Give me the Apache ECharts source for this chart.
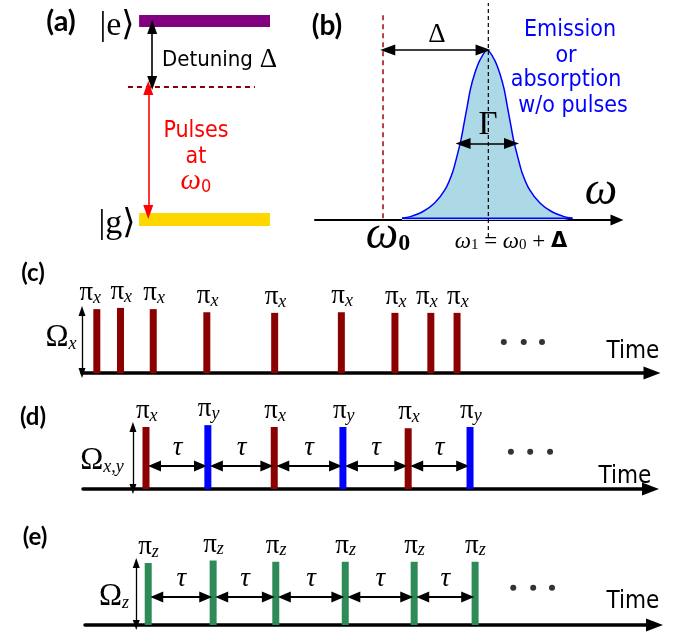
<!DOCTYPE html>
<html>
<head>
<meta charset="utf-8">
<script src="https://cdn.jsdelivr.net/npm/echarts@6/dist/echarts.min.js"></script>
<style>
  html, body { margin: 0; padding: 0; background: #fff; }
  #chart { width: 675px; height: 635px; }
</style>
</head>
<body>
<div id="chart"></div>
<script>
// (a) energy levels, in units of the transition
const levelValues = [1, 0];          // |e>, |g>
const virtualLevel = 0.667;          // where the pulses at w0 reach
// (b) line shape, x in units of the detuning (w0 = 0, w1 = 1)
const spectrumX = [0.18, 0.26, 0.38, 0.49, 0.59, 0.66, 0.7, 0.74, 0.77, 0.8, 0.83, 0.87, 0.92, 0.99,
  1.06, 1.11, 1.15, 1.18, 1.21, 1.24, 1.28, 1.32, 1.39, 1.49, 1.6, 1.72, 1.8];
const spectrumY = [0.01, 0.02, 0.05, 0.1, 0.18, 0.28, 0.37, 0.47, 0.57, 0.67, 0.77, 0.86, 0.94, 1.0,
  0.94, 0.86, 0.77, 0.67, 0.57, 0.47, 0.37, 0.28, 0.18, 0.1, 0.05, 0.02, 0.01];
const detuning = 1;
const gammaEdges = [0.71, 1.27];
const gammaLevel = 0.45;
// (c) pulse times and heights
const pulsesC = [2.6, 6.75, 12.5, 21.9, 33.8, 45.5, 54.9, 61.2, 65.8];
const heightsC = [1.03, 1.05, 1.03, 0.98, 0.97, 0.98, 0.97, 0.97, 0.97];
const subsC = ['x', 'x', 'x', 'x', 'x', 'x', 'x', 'x', 'x'];
// (d)
const pulsesD = [11.1, 22.0, 33.7, 45.8, 57.3, 68.2];
const heightsD = [1, 1.03, 1, 1, 0.98, 1];
const subsD = ['x', 'y', 'x', 'y', 'x', 'y'];
// (e)
const pulsesE = [11.1, 22.5, 33.5, 45.7, 57.8, 68.5];
const heightsE = [1, 1.04, 1.02, 1.02, 1.02, 1.02];
const subsE = ['z', 'z', 'z', 'z', 'z', 'z'];
// ellipsis dots
const dotsC = [74.0, 77.5, 80.7];
const dotsD = [75.4, 78.8, 82.3];
const dotsE = [75.2, 78.7, 82.0];

const SERIF = '"Liberation Serif", "DejaVu Serif", serif';
const NARROW = '"Liberation Sans Narrow", "DejaVu Sans Condensed", "Roboto", sans-serif';
const BOLD = 'Lato, "Open Sans", sans-serif';
const pulseColor = { x: '#8b0000', y: '#0000ff', z: '#2e8b57' };

const myChart = echarts.init(document.getElementById('chart'));

const hiddenX = (min, max, idx) => ({ type: 'value', gridIndex: idx, min: min, max: max, show: false });
const timeX = (idx) => ({
  type: 'value', gridIndex: idx, min: 0, max: 100,
  axisLine: { show: true, onZero: false, symbol: ['none', 'triangle'], symbolSize: [13, 17],
    lineStyle: { color: '#000', width: 3.5 } },
  axisTick: { show: false }, axisLabel: { show: false }, splitLine: { show: false }
});
const yHidden = (idx) => ({ type: 'value', gridIndex: idx, min: 0, max: 1, show: false });

const arrow = (p1, p2, color, width) => [
  { coord: p1, lineStyle: { color: color, width: width, type: 'solid' } },
  { coord: p2 }
];

// pulses as rects with their pi labels, plus the Omega arrow on the left
function pulseSeries(idx, xs, hs, subs, omegaX) {
  return {
    type: 'custom', xAxisIndex: idx, yAxisIndex: idx, silent: true, clip: false,
    data: xs.map((x, i) => [x, hs[i]]),
    renderItem: (params, api) => {
      const i = params.dataIndex;
      const top = api.coord([api.value(0), api.value(1)]);
      const base = api.coord([api.value(0), 0]);
      // crowded labels move left so they do not run into the next one
      let shift = -10;
      if (i + 1 < xs.length) {
        const gap = api.coord([xs[i + 1], 0])[0] - top[0];
        shift -= Math.max(0, 31 - gap);
      }
      return {
        type: 'group',
        children: [
          { type: 'rect', shape: { x: top[0] - 3.5, y: top[1], width: 7, height: base[1] - top[1] },
            style: { fill: pulseColor[subs[i]] } },
          { type: 'text', x: top[0] + shift, y: top[1] - 16,
            style: { text: '{p|π}{s|' + subs[i] + '}', align: 'left', verticalAlign: 'middle',
              rich: {
                p: { fontFamily: SERIF, fontSize: 27, lineHeight: 28, fill: '#000' },
                s: { fontFamily: SERIF, fontStyle: 'italic', fontSize: 18, lineHeight: 15, verticalAlign: 'bottom', fill: '#000' }
              } } }
        ]
      };
    },
    markLine: {
      silent: true, symbol: ['triangle', 'triangle'], symbolSize: [7, 10], label: { show: false },
      data: [arrow([omegaX, 0], [omegaX, 1], '#000', 1.3)]
    }
  };
}

// ellipsis dots, plus the tau arrows between neighbouring pulses
function dotSeries(idx, dots, yDots, tauY, pulses) {
  const lines = [];
  if (tauY !== null) {
    for (let i = 0; i + 1 < pulses.length; i++) {
      lines.push(arrow([pulses[i] + 1.5, tauY], [pulses[i + 1] - 1.3, tauY], '#000', 1.8));
    }
  }
  return {
    type: 'scatter', xAxisIndex: idx, yAxisIndex: idx, silent: true,
    symbol: 'circle', symbolSize: 6, itemStyle: { color: '#000' },
    data: dots.map(d => [d, yDots]),
    markLine: {
      silent: true, symbol: ['triangle', 'triangle'], symbolSize: [11, 13],
      label: { show: true, position: 'middle', formatter: 'τ', fontFamily: SERIF, fontStyle: 'italic',
        fontSize: 27, color: '#000', distance: 5 },
      data: lines
    }
  };
}

function txt(x, y, text, style) {
  return { type: 'text', x: x, y: y, z: 100,
    style: Object.assign({ text: text, align: 'center', verticalAlign: 'middle', fill: '#000' }, style) };
}
const omegaRich = {
  o: { fontFamily: SERIF, fontSize: 31, lineHeight: 30 },
  s: { fontFamily: SERIF, fontStyle: 'italic', fontSize: 18, lineHeight: 14, verticalAlign: 'bottom' }
};

const option = {
  animation: false,
  backgroundColor: '#fff',
  grid: [
    { left: 126, top: 21, width: 144, height: 198.5 },
    { left: 315, top: 50, width: 302, height: 170 },
    { left: 82, top: 311, width: 570, height: 62 },
    { left: 83, top: 427, width: 567.5, height: 62 },
    { left: 85, top: 563, width: 569.5, height: 62 }
  ],
  xAxis: [
    hiddenX(-0.1, 1, 0),
    { type: 'value', gridIndex: 1, min: -0.646, max: 2.222,
      axisLine: { show: true, onZero: false, symbol: ['none', 'triangle'], symbolSize: [11, 13],
        lineStyle: { color: '#000', width: 2 } },
      axisTick: { show: false }, axisLabel: { show: false }, splitLine: { show: false } },
    timeX(2), timeX(3), timeX(4)
  ],
  yAxis: [yHidden(0), yHidden(1), yHidden(2), yHidden(3), yHidden(4)],
  series: [
    // (a) levels
    { type: 'line', xAxisIndex: 0, yAxisIndex: 0, symbol: 'none', silent: true, clip: false,
      data: [[0, levelValues[0]], [1, levelValues[0]]],
      lineStyle: { color: '#800080', width: 12, cap: 'butt' } },
    { type: 'line', xAxisIndex: 0, yAxisIndex: 0, symbol: 'none', silent: true, clip: false,
      data: [[0, levelValues[1]], [1, levelValues[1]]],
      lineStyle: { color: '#ffd700', width: 13, cap: 'butt' } },
    { type: 'line', xAxisIndex: 0, yAxisIndex: 0, symbol: 'none', silent: true, clip: false,
      data: [[-0.085, virtualLevel], [0.885, virtualLevel]],
      lineStyle: { color: '#8b0000', width: 2, type: [5, 4] },
      markLine: { silent: true, symbol: ['triangle', 'triangle'], symbolSize: [10, 14], label: { show: false },
        data: [
          arrow([0.1, 0.97], [0.1, 0.688], '#000', 1.6),
          arrow([0.07, 0.662], [0.07, 0.038], '#ff0000', 1.6)
        ] } },
    // (b) line shape
    { type: 'line', xAxisIndex: 1, yAxisIndex: 1, symbol: 'none', silent: true, smooth: 0.3,
      data: spectrumX.map((x, i) => [x, spectrumY[i]]),
      lineStyle: { color: '#0000ff', width: 1.5 },
      areaStyle: { color: '#add8e6', opacity: 1 } },
    { type: 'line', xAxisIndex: 1, yAxisIndex: 1, symbol: 'none', silent: true,
      data: [[spectrumX[0], 0.01], [spectrumX[spectrumX.length - 1], 0.01]],
      lineStyle: { color: '#0000ff', width: 1.5 } },
    { type: 'line', xAxisIndex: 1, yAxisIndex: 1, symbol: 'none', silent: true, clip: false,
      data: [[0, 0.01], [0, 1.22]],
      lineStyle: { color: '#b03030', width: 1.8, type: [5, 4] } },
    { type: 'line', xAxisIndex: 1, yAxisIndex: 1, symbol: 'none', silent: true, clip: false,
      data: [[detuning, -0.1], [detuning, 1.276]],
      lineStyle: { color: '#000', width: 1.2, type: [4, 3] },
      markLine: { silent: true, symbol: ['triangle', 'triangle'], symbolSize: [11, 15], label: { show: false },
        data: [
          arrow([0.045, 1], [detuning - 0.05, 1], '#000', 1.6),
          arrow([gammaEdges[0] + 0.05, gammaLevel], [gammaEdges[1] - 0.05, gammaLevel], '#000', 1.6)
        ] } },
    // (c) (d) (e) pulses
    pulseSeries(2, pulsesC, heightsC, subsC, 0),
    pulseSeries(3, pulsesD, heightsD, subsD, 8.8),
    pulseSeries(4, pulsesE, heightsE, subsE, 9.0),
    dotSeries(2, dotsC, 0.5, null, pulsesC),
    dotSeries(3, dotsD, 0.6, 0.37, pulsesD),
    dotSeries(4, dotsE, 0.6, 0.45, pulsesE)
  ],
  graphic: [
    txt(61, 22, '(a)', { fontFamily: BOLD, fontWeight: 'bold', fontSize: 29 }),
    txt(327, 26, '(b)', { fontFamily: BOLD, fontWeight: 'bold', fontSize: 28 }),
    txt(33, 273, '(c)', { fontFamily: BOLD, fontWeight: 'bold', fontSize: 24 }),
    txt(33, 417, '(d)', { fontFamily: BOLD, fontWeight: 'bold', fontSize: 24 }),
    txt(35, 537, '(e)', { fontFamily: BOLD, fontWeight: 'bold', fontSize: 24 }),
    txt(117, 26, '|e⟩', { fontFamily: SERIF, fontSize: 34 }),
    txt(117, 224, '|g⟩', { fontFamily: SERIF, fontSize: 34 }),
    txt(162, 60, '{t|Detuning}{d| Δ}', { align: 'left',
      rich: { t: { fontFamily: NARROW, fontSize: 22, fill: '#000' }, d: { fontFamily: SERIF, fontSize: 27, fill: '#000' } } }),
    txt(196, 131, 'Pulses', { fontFamily: NARROW, fontSize: 23, fill: '#ff0000' }),
    txt(196, 157, 'at', { fontFamily: NARROW, fontSize: 23, fill: '#ff0000' }),
    txt(196, 181, '{w|ω}{s|0}', { rich: {
      w: { fontFamily: SERIF, fontStyle: 'italic', fontSize: 29, lineHeight: 30, fill: '#ff0000' },
      s: { fontFamily: NARROW, fontSize: 18, lineHeight: 14, verticalAlign: 'bottom', fill: '#ff0000' } } }),
    txt(437, 35, 'Δ', { fontFamily: SERIF, fontSize: 27 }),
    txt(488, 125, 'Γ', { fontFamily: SERIF, fontSize: 33 }),
    txt(601, 192, 'ω', { fontFamily: SERIF, fontStyle: 'italic', fontSize: 46 }),
    txt(388, 236, '{w|ω}{s|0}', { rich: {
      w: { fontFamily: SERIF, fontStyle: 'italic', fontSize: 46, lineHeight: 40 },
      s: { fontFamily: SERIF, fontWeight: 'bold', fontSize: 24, lineHeight: 22, verticalAlign: 'bottom' } } }),
    txt(511, 242, '{w|ω}{s|1}{n| = }{w|ω}{s|0}{n| + }{b|Δ}', { rich: {
      w: { fontFamily: SERIF, fontStyle: 'italic', fontSize: 23, lineHeight: 22 },
      s: { fontFamily: SERIF, fontSize: 15, lineHeight: 14, verticalAlign: 'bottom' },
      n: { fontFamily: SERIF, fontSize: 23, lineHeight: 22 },
      b: { fontFamily: 'DejaVu Sans', fontWeight: 'bold', fontSize: 21, lineHeight: 22 } } }),
    txt(570, 30, 'Emission', { fontFamily: NARROW, fontSize: 23, fill: '#0000ff' }),
    txt(566, 56, 'or', { fontFamily: NARROW, fontSize: 23, fill: '#0000ff' }),
    txt(566, 80, 'absorption', { fontFamily: NARROW, fontSize: 23, fill: '#0000ff' }),
    txt(573, 106, 'w/o pulses', { fontFamily: NARROW, fontSize: 23, fill: '#0000ff' }),
    txt(633, 352, 'Time', { fontFamily: NARROW, fontSize: 24 }),
    txt(625, 477, 'Time', { fontFamily: NARROW, fontSize: 24 }),
    txt(633, 602, 'Time', { fontFamily: NARROW, fontSize: 24 }),
    txt(61, 338, '{o|Ω}{s|x}', { rich: omegaRich }),
    txt(102, 461, '{o|Ω}{s|x,y}', { rich: omegaRich }),
    txt(114, 597, '{o|Ω}{s|z}', { rich: omegaRich })
  ]
};

myChart.setOption(option);
</script>
</body>
</html>
